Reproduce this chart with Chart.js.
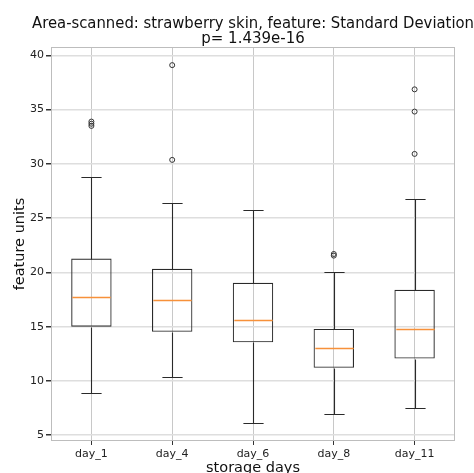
<!DOCTYPE html>
<html>
<head>
<meta charset="utf-8">
<script src="https://cdn.jsdelivr.net/npm/chart.js@4.4.1/dist/chart.umd.min.js"></script>
<style>
  html, body { margin: 0; padding: 0; background: #fff; }
  #wrap { width: 474px; height: 473px; }
</style>
</head>
<body>
<div id="wrap"><canvas id="chartBox"></canvas></div>
<script>
// ─────────────────────────────────────────────
//  Data: one box per storage day
// ─────────────────────────────────────────────
const DAYS     = ["day_1", "day_4", "day_6", "day_8", "day_11"];
const WHISK_LO = [8.85, 10.4, 6.15, 6.92, 7.53];
const Q1       = [15.0, 14.53, 13.57, 11.22, 12.07];
const MEDIAN   = [17.75, 17.5, 15.6, 13.0, 14.8];
const Q3       = [21.28, 20.33, 19.04, 14.8, 18.4];
const WHISK_HI = [28.83, 26.4, 25.76, 20.08, 26.8];
const OUTLIERS = [[33.5, 33.7, 33.9], [30.37, 39.1], [], [21.55, 21.7], [30.92, 34.82, 36.87]];
const Y_TICKS  = [5, 10, 15, 20, 25, 30, 35, 40];
const Y_MIN = 4.47, Y_MAX = 40.77;

const FONT   = "'DejaVu Sans', sans-serif";
const C_LINE = "#2a2a2a";
const C_MED  = "#f7913a";

// ── title centred over the plot area, not the whole canvas ──
const centerTitle = {
  id: "centerTitle",
  afterLayout(chart) {
    const t = chart.titleBlock, a = chart.chartArea;
    const c = (a.left + a.right) / 2;
    const half = Math.min(c, chart.width - c);
    t.left = c - half;
    t.right = c + half;
    t.width = 2 * half;
  },
};

// ── light frame round the axes ──
const axesFrame = {
  id: "axesFrame",
  beforeDatasetsDraw(chart) {
    const { ctx, chartArea: a } = chart;
    ctx.save();
    ctx.strokeStyle = "#bdbdbd";
    ctx.lineWidth = 1;
    ctx.strokeRect(a.left + 0.5, a.top + 0.5, a.right - a.left - 1, a.bottom - a.top - 1);
    ctx.restore();
  },
};

// ── whiskers, caps and medians on top of the IQR bars ──
const boxParts = {
  id: "boxParts",
  afterDatasetsDraw(chart) {
    const { ctx, scales: { x, y } } = chart;
    const bars = chart.getDatasetMeta(0).data;
    const py = (v) => Math.round(y.getPixelForValue(v)) + 0.5;
    ctx.save();
    DAYS.forEach((d, i) => {
      const cx = Math.round(x.getPixelForValue(i)) + 0.5;
      const half = bars[i].width / 2;
      const cap = half / 2;

      ctx.strokeStyle = C_LINE;
      ctx.lineWidth = 1.1;
      ctx.beginPath();
      ctx.moveTo(cx, py(Q3[i]));        ctx.lineTo(cx, py(WHISK_HI[i]));
      ctx.moveTo(cx, py(Q1[i]));        ctx.lineTo(cx, py(WHISK_LO[i]));
      ctx.moveTo(cx - cap, py(WHISK_HI[i])); ctx.lineTo(cx + cap, py(WHISK_HI[i]));
      ctx.moveTo(cx - cap, py(WHISK_LO[i])); ctx.lineTo(cx + cap, py(WHISK_LO[i]));
      ctx.stroke();

      ctx.strokeStyle = C_MED;
      ctx.lineWidth = 1.5;
      ctx.beginPath();
      ctx.moveTo(cx - half + 1, py(MEDIAN[i]));
      ctx.lineTo(cx + half - 1, py(MEDIAN[i]));
      ctx.stroke();
    });
    ctx.restore();
  },
};

new Chart(document.getElementById("chartBox"), {
  type: "bar",
  data: {
    labels: DAYS,
    datasets: [
      {
        label: "IQR",
        data: DAYS.map((_, i) => [Q1[i], Q3[i]]),
        backgroundColor: "rgba(0,0,0,0)",
        borderColor: C_LINE,
        borderWidth: 1.1,
        borderSkipped: false,
        barPercentage: 0.5,
        categoryPercentage: 1,
      },
      {
        type: "line",
        label: "outliers",
        data: OUTLIERS.flatMap((vals, i) => vals.map((v) => ({ x: DAYS[i], y: v }))),
        showLine: false,
        pointRadius: 2.5,
        pointBorderWidth: 1,
        pointBorderColor: "#333",
        pointBackgroundColor: "rgba(0,0,0,0)",
      },
    ],
  },
  options: {
    responsive: true,
    maintainAspectRatio: false,
    animation: false,
    layout: { padding: { top: 0, right: 19, bottom: 0, left: 0 } },
    plugins: {
      legend: { display: false },
      tooltip: { enabled: false },
      title: {
        display: true,
        text: ["Area-scanned: strawberry skin, feature: Standard Deviation", "p= 1.439e-16"],
        color: "#111",
        font: { family: FONT, size: 15, weight: "normal", lineHeight: 0.967 },
        padding: { top: 17.25, bottom: 0.75 },
      },
    },
    scales: {
      x: {
        offset: true,
        grid: { offset: false, color: "#c8c8c8", lineWidth: 1, tickLength: 4, tickColor: "#333" },
        border: { display: false },
        ticks: { color: "#222", padding: 3, font: { family: FONT, size: 11 } },
        title: {
          display: true,
          text: "storage days",
          color: "#111",
          font: { family: FONT, size: 14.5 },
          padding: { top: 0, bottom: -4 },
        },
        afterFit: (s) => { s.height = 32; },
      },
      y: {
        min: Y_MIN,
        max: Y_MAX,
        afterBuildTicks: (s) => { s.ticks = Y_TICKS.map((v) => ({ value: v })); },
        grid: { color: "#dedede", lineWidth: 1.5, tickLength: 5, tickColor: "#333" },
        border: { display: false },
        ticks: { color: "#222", padding: 2, font: { family: FONT, size: 11 } },
        title: {
          display: true,
          text: "feature units",
          color: "#111",
          font: { family: FONT, size: 14.5 },
          padding: { top: 12, bottom: 0 },
        },
        afterFit: (s) => { s.width = 51; },
      },
    },
  },
  plugins: [centerTitle, axesFrame, boxParts],
});
</script>
</body>
</html>
